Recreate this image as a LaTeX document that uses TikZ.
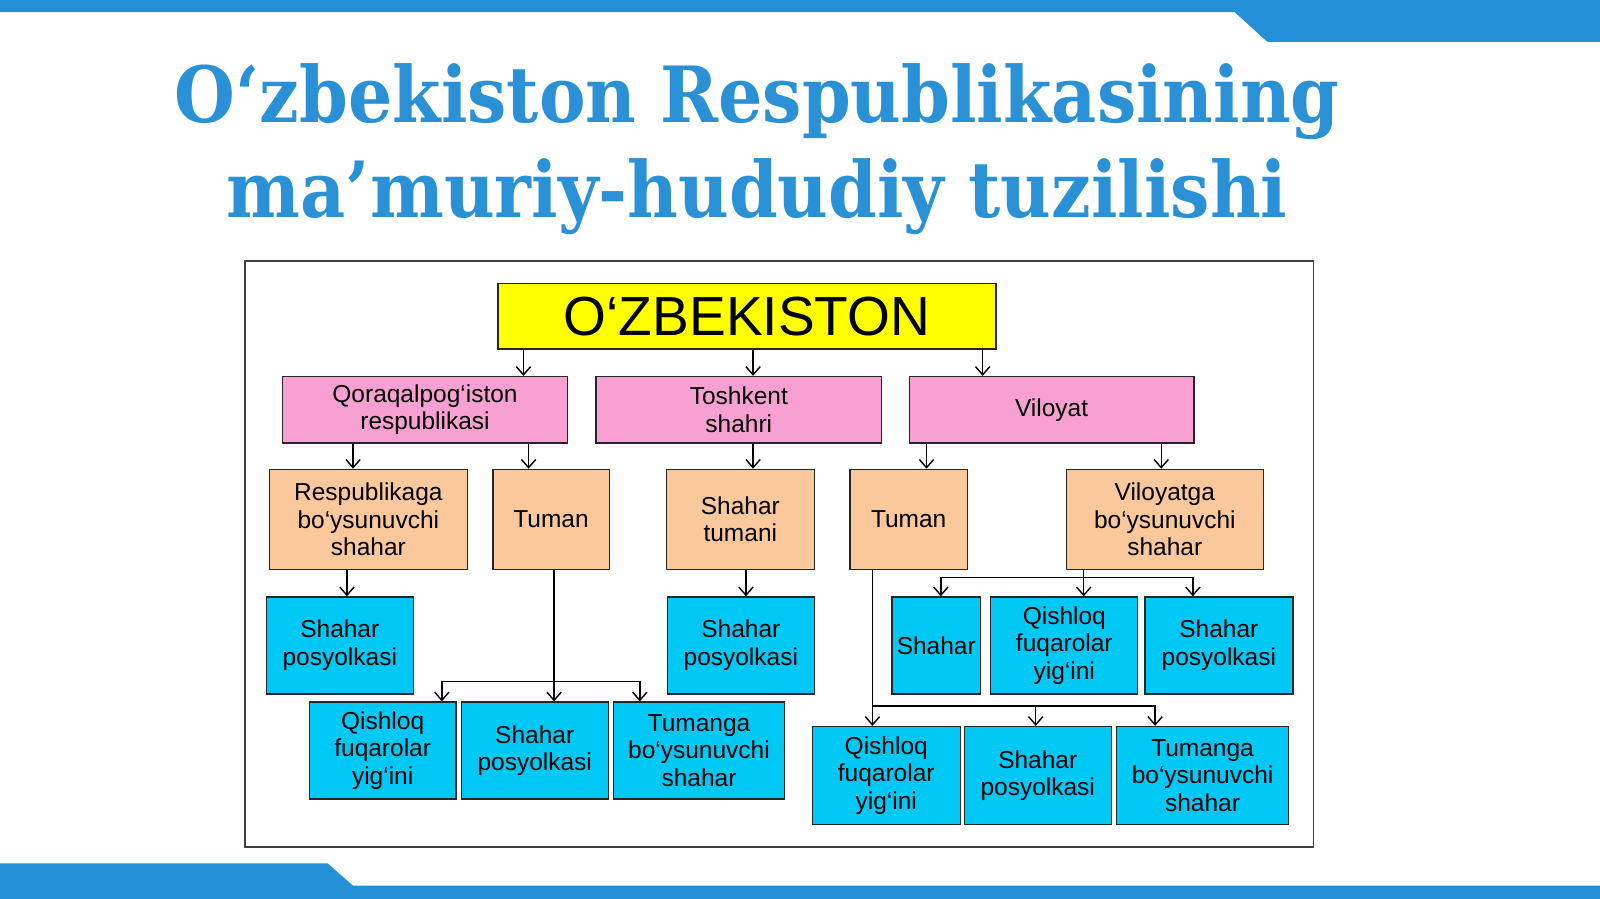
\documentclass[tikz,border=0pt]{standalone}
\usepackage{fontspec}
\setmainfont{Liberation Sans}
\newfontfamily\titlefont{DejaVu Serif Condensed}
\usetikzlibrary{arrows.meta}
\definecolor{barblue}{RGB}{35,144,215}
\definecolor{titleblue}{RGB}{42,145,214}
\definecolor{yel}{RGB}{255,255,0}
\definecolor{pnk}{RGB}{249,160,210}
\definecolor{org}{RGB}{250,200,155}
\definecolor{cyn}{RGB}{0,200,244}
\tikzset{
  box/.style={draw=black!85,line width=1.3pt,inner sep=0pt,align=center,font=\fontsize{24}{27}\selectfont},
  pbox/.style={box,fill=pnk,minimum height=65pt},
  obox/.style={box,fill=org,minimum height=98pt},
  cbox/.style={box,fill=cyn,minimum height=95pt},
  ttl/.style={anchor=base,text=titleblue,inner sep=0pt,font=\titlefont\bfseries\fontsize{76}{93}\selectfont},
  arr/.style={line width=1.4pt,-{Straight Barb[length=8pt,width=14pt]}}
}
\begin{document}
\begin{tikzpicture}[x=1pt,y=-1pt]
  \useasboundingbox (0,0) rectangle (1568,881);
  \fill[barblue] (0,0) -- (1568,0) -- (1568,41) -- (1242,41) -- (1210,12) -- (0,12) -- cycle;
  \fill[barblue] (0,846) -- (321,846) -- (346,868) -- (1568,868) -- (1568,881) -- (0,881) -- cycle;

  \node[ttl] (title1) at (742,120) {O‘zbekiston Respublikasining};
  \node[ttl] (title2) at (742,213) {ma’muriy-hududiy tuzilishi};
  \draw[line width=1.5pt,black!75] (240,256) rectangle (1287,830);

  % top
  \node[box,fill=yel,minimum width=488pt,minimum height=64pt,font=\fontsize{54}{60}\selectfont] (uzb) at (732,310) {O‘ZBEKISTON};

  % regions
  \node[pbox,minimum width=279pt] (qqr) at (416.5,401.5) {Qoraqalpog‘iston\\respublikasi};
  \node[pbox,minimum width=280pt] (tosh) at (724,401.5) {Toshkent\\shahri};
  \node[pbox,minimum width=279pt] (vil) at (1030.5,401.5) {Viloyat};

  % second level
  \node[obox,minimum width=194pt] (rsh) at (361,509) {Respublikaga\\bo‘ysunuvchi\\shahar};
  \node[obox,minimum width=114pt] (tum1) at (540,509) {Tuman};
  \node[obox,minimum width=145pt] (sht) at (725.5,509) {Shahar\\tumani};
  \node[obox,minimum width=115pt] (tum2) at (890.5,509) {Tuman};
  \node[obox,minimum width=193pt] (vsh) at (1141.5,509) {Viloyatga\\bo‘ysunuvchi\\shahar};

  % third level
  \node[cbox,minimum width=144pt] (sp1) at (333,632.5) {Shahar\\posyolkasi};
  \node[cbox,minimum width=144pt] (sp2) at (726,632.5) {Shahar\\posyolkasi};
  \node[cbox,minimum width=87pt] (sh3) at (917.5,632.5) {Shahar};
  \node[cbox,minimum width=144pt] (qf3) at (1043,632.5) {Qishloq\\fuqarolar\\yig‘ini};
  \node[cbox,minimum width=145pt] (sp3) at (1194.5,632.5) {Shahar\\posyolkasi};

  \node[cbox,minimum width=144pt] (qf1) at (375,735.5) {Qishloq\\fuqarolar\\yig‘ini};
  \node[cbox,minimum width=144pt] (sp4) at (524,735.5) {Shahar\\posyolkasi};
  \node[cbox,minimum width=168pt] (tb1) at (685,735.5) {Tumanga\\bo‘ysunuvchi\\shahar};

  \node[cbox,minimum width=145pt,minimum height=96pt] (qf2) at (868.5,760) {Qishloq\\fuqarolar\\yig‘ini};
  \node[cbox,minimum width=144pt,minimum height=96pt] (sp5) at (1017,760) {Shahar\\posyolkasi};
  \node[cbox,minimum width=169pt,minimum height=96pt] (tb2) at (1178.5,760) {Tumanga\\bo‘ysunuvchi\\shahar};

  % straight arrows
  \foreach \from/\to/\dx in {uzb/qqr/96.5,uzb/tosh/14,uzb/vil/-67.5,qqr/rsh/-15,qqr/tum1/-22,tosh/sht/12.5,vil/tum2/17.5,vil/vsh/-3.5,rsh/sp1/7,sht/sp2/5}
  \draw[arr] ([xshift=\dx pt]\to.north |- \from.south) -- ([xshift=\dx pt]\to.north);

  % branching arrows
  \coordinate (busV) at (0,566);
  \coordinate (busL) at (0,668);
  \coordinate (busR) at (0,692);
  \foreach \from/\fx/\bus/\to/\dx in {tum1/3/busL/qf1/58,tum1/3/busL/sp4/19,tum1/3/busL/tb1/-58,tum2/-35.5/busR/qf2/-13.5,tum2/-35.5/busR/sp5/-2,tum2/-35.5/busR/tb2/-46.5,vsh/-79.5/busV/sh3/4.5,vsh/-79.5/busV/qf3/19,vsh/-79.5/busV/sp3/-25.5}
  \draw[arr] ([xshift=\fx pt]\from.south) |- ([xshift=\dx pt]\to.north |- \bus) -- ([xshift=\dx pt]\to.north);
\end{tikzpicture}
\end{document}
